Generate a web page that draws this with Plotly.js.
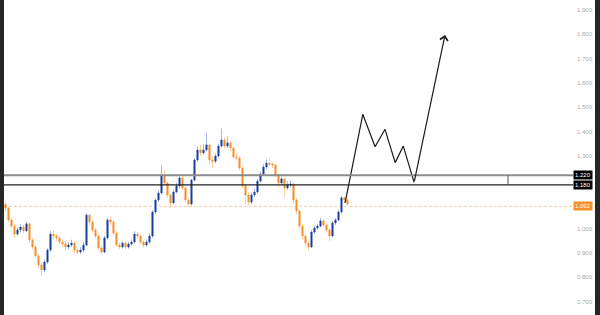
<!DOCTYPE html>
<html>
<head>
<meta charset="utf-8">
<script src="https://cdn.plot.ly/plotly-3.0.1.min.js"></script>
<style>html,body{margin:0;padding:0;background:#262626;}#chart{width:600px;height:315px;}</style>
</head>
<body>
<div id="chart"></div>
<script>
// ---- data ----
const barIndex = Array.from({length: 115}, (_, i) => i);
const openPrices = [1.100,1.085,1.036,1.011,0.978,0.995,1.007,0.991,1.020,0.954,
0.925,0.888,0.851,0.830,0.863,0.912,0.978,0.970,0.962,0.945,
0.937,0.925,0.933,0.941,0.912,0.904,0.912,0.933,1.056,1.028,
0.995,0.970,0.921,0.904,0.962,1.036,1.028,0.982,0.933,0.925,
0.941,0.925,0.937,0.945,0.978,0.970,0.945,0.933,0.945,0.970,
1.069,1.118,1.147,1.221,1.188,1.139,1.106,1.151,1.176,1.209,
1.168,1.118,1.102,1.200,1.283,1.324,1.312,1.324,1.345,1.283,
1.278,1.299,1.340,1.365,1.340,1.353,1.332,1.295,1.291,1.250,
1.176,1.139,1.110,1.139,1.151,1.196,1.225,1.254,1.270,1.266,
1.262,1.221,1.188,1.205,1.168,1.180,1.184,1.118,1.073,1.011,
0.970,0.941,0.925,0.986,1.003,1.011,1.032,1.015,0.995,0.970,
1.024,1.036,1.069,1.127,1.118];
const closePrices = [1.085,1.036,1.011,0.978,0.995,1.007,0.991,1.020,0.954,0.925,
0.888,0.851,0.830,0.863,0.912,0.978,0.970,0.962,0.945,0.937,
0.925,0.933,0.941,0.912,0.904,0.912,0.933,1.056,1.028,0.995,
0.970,0.921,0.904,0.962,1.036,1.028,0.982,0.933,0.925,0.941,
0.925,0.937,0.945,0.978,0.970,0.945,0.933,0.945,0.970,1.069,
1.118,1.147,1.221,1.188,1.139,1.106,1.151,1.176,1.209,1.168,
1.118,1.102,1.200,1.283,1.324,1.312,1.324,1.345,1.283,1.278,
1.299,1.340,1.365,1.340,1.353,1.332,1.295,1.291,1.250,1.176,
1.139,1.110,1.139,1.151,1.196,1.225,1.254,1.270,1.266,1.262,
1.221,1.188,1.205,1.168,1.180,1.184,1.118,1.073,1.011,0.970,
0.941,0.925,0.986,1.003,1.011,1.032,1.015,0.995,0.970,1.024,
1.036,1.069,1.127,1.118,1.102];
const highPrices = [1.112,1.090,1.045,1.020,1.005,1.020,1.015,1.030,1.025,0.962,
0.935,0.898,0.860,0.872,0.920,0.990,0.995,0.980,0.970,0.955,
0.948,0.945,0.955,0.948,0.920,0.925,0.945,1.065,1.060,1.035,
1.002,0.978,0.930,0.970,1.045,1.050,1.035,0.990,0.945,0.950,
0.948,0.945,0.955,0.990,0.988,0.975,0.952,0.955,0.978,1.075,
1.125,1.160,1.262,1.240,1.195,1.145,1.160,1.190,1.225,1.215,
1.175,1.125,1.205,1.290,1.340,1.345,1.350,1.394,1.350,1.300,
1.310,1.350,1.412,1.375,1.380,1.360,1.340,1.310,1.298,1.255,
1.182,1.150,1.150,1.165,1.205,1.235,1.265,1.285,1.290,1.275,
1.268,1.228,1.215,1.210,1.195,1.200,1.190,1.125,1.080,1.018,
0.978,0.950,0.995,1.012,1.020,1.045,1.040,1.020,1.000,1.032,
1.045,1.078,1.135,1.132,1.125];
const lowPrices = [1.070,1.025,1.000,0.960,0.970,0.985,0.980,0.985,0.940,0.915,
0.878,0.840,0.805,0.822,0.855,0.905,0.958,0.950,0.935,0.925,
0.912,0.915,0.925,0.900,0.895,0.896,0.905,0.928,1.015,0.985,
0.960,0.912,0.895,0.898,0.955,1.015,0.975,0.925,0.915,0.918,
0.915,0.918,0.930,0.940,0.960,0.935,0.922,0.925,0.938,0.962,
1.060,1.110,1.140,1.180,1.125,1.085,1.100,1.145,1.168,1.160,
1.108,1.092,1.095,1.195,1.275,1.300,1.305,1.318,1.265,1.250,
1.270,1.292,1.335,1.330,1.332,1.320,1.285,1.280,1.240,1.165,
1.100,1.095,1.100,1.130,1.145,1.190,1.218,1.245,1.258,1.250,
1.212,1.170,1.180,1.125,1.160,1.170,1.105,1.060,1.000,0.955,
0.930,0.910,0.920,0.978,0.995,1.005,1.005,0.980,0.950,0.965,
1.015,1.030,1.062,1.105,1.095];

// projected path (bar index, price)
const pathX = [113.2, 119.1, 123.2, 126.5, 129.9, 132.6, 136.2];
const pathY = [1.106, 1.471, 1.337, 1.409, 1.272, 1.340, 1.191];
const arrowEndX = 146.5;
const arrowEndY = 1.797;

// levels
const resistanceLevel = 1.220;
const supportLevel = 1.180;
const currentPrice = 1.092;
const markerX = 167.5;

// axis ticks (1.100 and 1.200 sit under the level tags)
const tickValues = [0.7,0.8,0.9,1.0,1.3,1.4,1.5,1.6,1.7,1.8,1.9];
const tickLabels = ["0.700","0.800","0.900","1.000","1.300","1.400","1.500","1.600","1.700","1.800","1.900"];

// ---- derived body-only layer ----
const bodyHigh = openPrices.map((o, i) => Math.max(o, closePrices[i]));
const bodyLow = openPrices.map((o, i) => Math.min(o, closePrices[i]));

const BLUE = '#1d3f9e', ORANGE = '#f5902a';
const traces = [
  {
    type: 'candlestick', x: barIndex, open: openPrices, high: highPrices, low: lowPrices, close: closePrices,
    increasing: {line: {color: 'rgba(130,158,220,0.7)', width: 1}, fillcolor: 'rgba(130,158,220,0.7)'},
    decreasing: {line: {color: 'rgba(250,192,135,0.75)', width: 1}, fillcolor: 'rgba(250,192,135,0.75)'},
    whiskerwidth: 0, hoverinfo: 'skip', showlegend: false
  },
  {
    type: 'candlestick', x: barIndex, open: openPrices, high: bodyHigh, low: bodyLow, close: closePrices,
    increasing: {line: {color: BLUE, width: 0.5}, fillcolor: BLUE},
    decreasing: {line: {color: ORANGE, width: 0.5}, fillcolor: ORANGE},
    whiskerwidth: 0, hoverinfo: 'skip', showlegend: false
  },
  {
    type: 'scatter', mode: 'lines', x: pathX, y: pathY,
    line: {color: '#1a1a1a', width: 1.2}, hoverinfo: 'skip', showlegend: false
  }
];

const xEnd = 189.2;
const tagFont = {family: 'Liberation Sans, Arial, sans-serif', size: 6, color: '#ffffff'};
const layout = {
  width: 600, height: 315,
  margin: {l: 4, r: 5, t: 0, b: 0, pad: 0},
  paper_bgcolor: '#262626', plot_bgcolor: '#ffffff',
  showlegend: false,
  boxgap: 0.45,
  xaxis: {range: [-0.5, 196.5], showgrid: false, zeroline: false, showticklabels: false,
          ticks: '', rangeslider: {visible: false}, fixedrange: true},
  yaxis: {range: [0.6449, 1.9412], side: 'right', ticklabelposition: 'inside',
          tickvals: tickValues, ticktext: tickLabels, ticks: '', showgrid: false, zeroline: false,
          tickfont: {family: 'Liberation Sans, Arial, sans-serif', size: 6, color: '#a8a8a8'}},
  shapes: [
    {type: 'line', xref: 'x', yref: 'y', x0: -0.5, x1: xEnd, y0: resistanceLevel, y1: resistanceLevel,
     line: {color: '#8c8c8c', width: 2}},
    {type: 'line', xref: 'x', yref: 'y', x0: -0.5, x1: xEnd, y0: supportLevel, y1: supportLevel,
     line: {color: '#222222', width: 1.2}},
    {type: 'line', xref: 'x', yref: 'y', x0: markerX, x1: markerX, y0: supportLevel, y1: resistanceLevel,
     line: {color: '#555555', width: 1}},
    {type: 'line', xref: 'x', yref: 'y', x0: -0.5, x1: xEnd, y0: currentPrice, y1: currentPrice,
     line: {color: 'rgba(247,160,90,0.55)', width: 1, dash: '3px,2px'}, layer: 'below'}
  ],
  annotations: [
    {x: arrowEndX, y: arrowEndY, xref: 'x', yref: 'y', ax: pathX[pathX.length-1], ay: pathY[pathY.length-1],
     axref: 'x', ayref: 'y', showarrow: true, arrowhead: 4, arrowsize: 1.3, arrowwidth: 1.2,
     arrowcolor: '#1a1a1a', text: ''},
    {x: 0.997, xref: 'paper', xanchor: 'right', y: resistanceLevel, yref: 'y', yanchor: 'middle',
     text: resistanceLevel.toFixed(3), showarrow: false, bgcolor: '#000000', borderpad: 1, font: tagFont},
    {x: 0.997, xref: 'paper', xanchor: 'right', y: supportLevel, yref: 'y', yanchor: 'middle',
     text: supportLevel.toFixed(3), showarrow: false, bgcolor: '#000000', borderpad: 1, font: tagFont},
    {x: 0.997, xref: 'paper', xanchor: 'right', y: currentPrice, yref: 'y', yanchor: 'middle',
     text: currentPrice.toFixed(3), showarrow: false, bgcolor: '#f7902b', borderpad: 1, font: tagFont}
  ]
};

Plotly.newPlot('chart', traces, layout, {staticPlot: true, displayModeBar: false});
</script>
</body>
</html>
